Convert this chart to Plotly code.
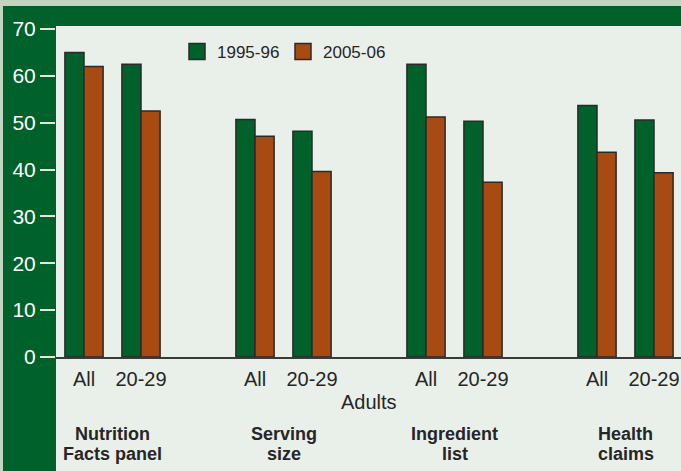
import plotly.graph_objects as go

groups_line1 = ["Nutrition", "Serving", "Ingredient", "Health"]
groups_line2 = ["Facts panel", "size", "list", "claims"]
subgroups = ["All", "20-29"]
series_names = ["1995-96", "2005-06"]
vals_1995 = [65.0, 62.5, 50.7, 48.2, 62.5, 50.3, 53.7, 50.6]
vals_2005 = [62.0, 52.5, 47.1, 39.6, 51.2, 37.3, 43.7, 39.3]
y_ticks = [0, 10, 20, 30, 40, 50, 60, 70]

GREEN = "#00612a"
ORANGE = "#a84b12"
CREAM = "#e9f0ea"
LIGHT = "#c3d5c0"
EDGE = "#2a2a2a"
TXT = "#262626"

W, H = 681, 471
L, R, T, B = 56, 0, 26, 114
PW, PH = W - L - R, H - T - B

def px_x(p):
    return (p - L) / PW

def px_y(p):
    return (H - B - p) / PH

xpos = []
ticktext = []
for g in range(len(groups_line1)):
    for s in range(len(subgroups)):
        xpos.append(g * 3 + s)
        ticktext.append(subgroups[s])

bw = 0.335
fig = go.Figure()
fig.add_trace(go.Bar(x=xpos, y=vals_1995, width=bw, offset=-bw, marker=dict(color=GREEN, line=dict(color=EDGE, width=1.5)),
                     showlegend=False, name=series_names[0]))
fig.add_trace(go.Bar(x=xpos, y=vals_2005, width=bw, offset=0, marker=dict(color=ORANGE, line=dict(color=EDGE, width=1.5)),
                     showlegend=False, name=series_names[1]))
for nm, c in zip(series_names, [GREEN, ORANGE]):
    fig.add_trace(go.Scatter(x=[None], y=[None], mode="markers", name=nm,
                             marker=dict(symbol="square", size=19, color=c, line=dict(color=EDGE, width=1.5))))

shapes = [
    dict(type="rect", xref="paper", yref="paper", x0=px_x(56), x1=px_x(W + 5), y0=px_y(H + 5), y1=px_y(357),
         fillcolor=CREAM, line=dict(width=0), layer="below"),
    dict(type="rect", xref="paper", yref="paper", x0=px_x(-5), x1=px_x(W + 5), y0=px_y(6), y1=px_y(-5),
         fillcolor=LIGHT, line=dict(width=0), layer="below"),
    dict(type="rect", xref="paper", yref="paper", x0=px_x(-5), x1=px_x(3), y0=px_y(H + 5), y1=px_y(-5),
         fillcolor=LIGHT, line=dict(width=0), layer="below"),
]

annotations = [dict(text="Adults", xref="paper", yref="paper", x=0.5, y=px_y(402), showarrow=False,
                    font=dict(size=20, color=TXT), xanchor="center", yanchor="middle")]
for g in range(len(groups_line1)):
    annotations.append(dict(text="<b>" + groups_line1[g] + "</b>", xref="x", yref="paper", x=g * 3 + 0.5, y=px_y(434),
                            showarrow=False, font=dict(size=18, color=TXT), xanchor="center", yanchor="middle"))
    annotations.append(dict(text="<b>" + groups_line2[g] + "</b>", xref="x", yref="paper", x=g * 3 + 0.5, y=px_y(454),
                            showarrow=False, font=dict(size=18, color=TXT), xanchor="center", yanchor="middle"))

fig.update_layout(
    width=W, height=H,
    margin=dict(l=L, r=R, t=T, b=B),
    paper_bgcolor=GREEN, plot_bgcolor=CREAM,
    font=dict(family="Liberation Sans, Arial, sans-serif"),
    barmode="overlay",
    shapes=shapes,
    annotations=annotations,
    legend=dict(orientation="h", x=px_x(177), y=px_y(34), xanchor="left", yanchor="top",
                font=dict(size=17, color=TXT), bgcolor="rgba(0,0,0,0)", itemwidth=30, tracegroupgap=0,
                entrywidth=61, entrywidthmode="pixels"),
    xaxis=dict(range=[(56 - 84) / 57, (681 - 84) / 57], tickvals=[p for p in xpos], ticktext=ticktext,
               showgrid=False, zeroline=False, showline=True, linecolor="#3a3a3a", linewidth=2,
               ticks="", tickfont=dict(size=20, color=TXT), ticklabelstandoff=3, fixedrange=True),
    yaxis=dict(range=[0, (357 - 26) / ((357 - 29) / 70)], tickvals=y_ticks, showgrid=False, zeroline=False,
               showline=False, ticks="outside", ticklen=15, tickwidth=1.5, tickcolor="#e0e8e0",
               tickfont=dict(size=21, color="white"), ticklabelstandoff=0),
)

fig.write_html("out.html", config={"displayModeBar": False},
               post_script="document.body.style.margin='0';document.body.style.overflow='hidden';")
